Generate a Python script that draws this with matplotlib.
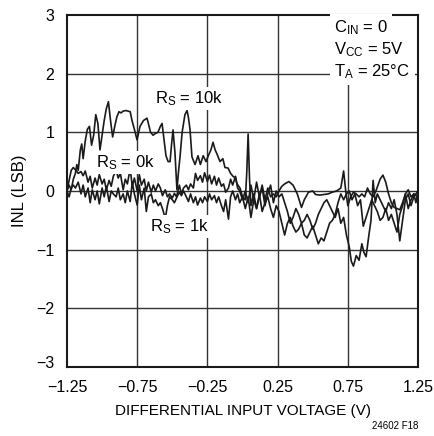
import matplotlib
matplotlib.use("Agg")
import matplotlib.pyplot as plt
from matplotlib import font_manager
from matplotlib.transforms import ScaledTranslation

# INL vs differential input voltage, three source resistances

# R_S = 10k trace
V_10K = [-1.25, -1.235, -1.22, -1.205, -1.19, -1.18, -1.17, -1.155, -1.145, -1.135,
         -1.12, -1.105, -1.09, -1.075, -1.06, -1.045, -1.03, -1.015, -1.0, -0.985,
         -0.97, -0.955, -0.94, -0.925, -0.91, -0.895, -0.88, -0.865, -0.85, -0.83,
         -0.80, -0.787, -0.77, -0.751, -0.73, -0.705, -0.68, -0.665, -0.655, -0.637,
         -0.62, -0.602, -0.585, -0.573, -0.56, -0.545, -0.53, -0.516, -0.505, -0.495,
         -0.481, -0.467, -0.455, -0.445, -0.43, -0.41, -0.395, -0.385, -0.374, -0.36,
         -0.338, -0.317, -0.30, -0.28, -0.26, -0.24, -0.225, -0.21, -0.195, -0.18,
         -0.16, -0.14, -0.125, -0.103, -0.085, -0.068, -0.05, -0.039, -0.018,
         0.0, 0.02, 0.03, 0.04, 0.05, 0.06, 0.08, 0.10, 0.12, 0.14, 0.16, 0.18, 0.20,
         0.22, 0.24, 0.26, 0.28, 0.30, 0.32, 0.34, 0.36, 0.38, 0.40, 0.42, 0.44, 0.46,
         0.48, 0.50, 0.52, 0.54, 0.56, 0.58, 0.60, 0.62, 0.64, 0.66, 0.68, 0.70, 0.72,
         0.74, 0.76, 0.775, 0.79, 0.81, 0.83, 0.85, 0.865, 0.88, 0.90, 0.915, 0.93,
         0.945, 0.96, 0.98, 1.0, 1.02, 1.04, 1.06, 1.08, 1.10, 1.12, 1.14, 1.16, 1.18,
         1.20, 1.22, 1.25]
INL_10K = [0.0, 0.10, 0.02, 0.20, 0.30, 0.45, 0.35, 0.70, 0.80, 0.55,
           0.85, 1.05, 1.10, 0.78, 0.95, 1.30, 1.15, 0.70, 0.95, 1.20,
           1.40, 1.52, 1.20, 0.92, 1.10, 1.26, 1.35, 1.33, 1.36, 1.37,
           1.35, 1.20, 1.05, 0.87, 1.10, 1.20, 1.24, 1.10, 1.00, 0.95,
           0.98, 1.00, 1.10, 1.15, 0.90, 0.60, 0.50, 0.50, 0.80, 1.04,
           0.65, 0.02, 0.35, 0.58, 1.00, 1.30, 1.37, 1.25, 1.05, 0.58,
           0.45, 0.60, 0.45, 0.60, 0.50, 0.62, 0.70, 0.83, 0.70, 0.62,
           0.50, 0.55, 0.40, 0.39, 0.30, 0.25, 0.22, 0.12, 0.05,
           -0.10, -0.15, 0.30, 0.97, 0.20, -0.25, -0.05, -0.30, -0.10, 0.05, -0.25, -0.05, 0.10,
           -0.20, 0.0, -0.10, -0.05, -0.20, -0.35, -0.55, -0.45, -0.30, -0.40, -0.55, -0.50, -0.40,
           -0.50, -0.65, -0.55, -0.40, -0.30, -0.20, -0.15, -0.25, -0.35, -0.45, -0.30, -0.55, -0.45,
           -0.75, -0.95, -1.20, -1.28, -1.10, -1.18, -0.90, -1.05, -1.12, -0.75, -0.50, 0.18,
           -0.20, -0.05, -0.15, -0.25, -0.35, -0.20, -0.30, -0.15, -0.40, -0.85, -0.50, -0.15, -0.05,
           -0.25, -0.10, 0.0]

# R_S = 0k trace
V_0K = [-1.25, -1.235, -1.22, -1.205, -1.19, -1.17, -1.15, -1.135, -1.12, -1.10,
        -1.085, -1.07, -1.05, -1.035, -1.02, -1.0, -0.985, -0.97, -0.95, -0.935,
        -0.92, -0.90, -0.885, -0.87, -0.85, -0.835, -0.82, -0.80, -0.785, -0.77,
        -0.75, -0.735, -0.72, -0.70, -0.685, -0.67, -0.65, -0.635, -0.62, -0.60,
        -0.585, -0.57, -0.55, -0.535, -0.52, -0.50, -0.485, -0.47, -0.45, -0.435,
        -0.42, -0.40, -0.385, -0.37, -0.35, -0.335, -0.32, -0.30, -0.285, -0.27,
        -0.25, -0.235, -0.22, -0.20, -0.185, -0.17, -0.15, -0.135, -0.12, -0.10,
        -0.085, -0.07, -0.05, -0.035, -0.02,
        0.0, 0.02, 0.04, 0.06, 0.08, 0.10, 0.12, 0.14, 0.16, 0.18, 0.20, 0.22, 0.24,
        0.26, 0.28, 0.30, 0.33, 0.36, 0.39, 0.42, 0.44, 0.47, 0.50, 0.52, 0.55, 0.58,
        0.61, 0.64, 0.67, 0.70, 0.72, 0.735, 0.75, 0.77, 0.79, 0.81, 0.83, 0.85, 0.87,
        0.89, 0.91, 0.93, 0.95, 0.98, 1.0, 1.02, 1.04, 1.06, 1.08, 1.10, 1.12, 1.14,
        1.16, 1.18, 1.20, 1.22, 1.235, 1.25]
INL_0K = [0.0, 0.18, 0.35, 0.40, 0.36, 0.30, 0.33, 0.26, 0.34, 0.15,
          0.25, 0.05, 0.22, 0.10, 0.28, 0.12, 0.20, 0.02, 0.18, 0.08,
          0.25, 0.35, 0.22, 0.30, 0.02, 0.20, 0.12, 0.38, 0.08, 0.22,
          0.0, 0.28, 0.10, 0.20, 0.0, 0.15, -0.02, 0.10, 0.0, 0.12,
          0.05, -0.08, 0.02, -0.10, -0.05, -0.12, -0.04, -0.10, 0.10, -0.05,
          0.05, 0.10, 0.02, 0.12, 0.05, 0.30, 0.18, 0.26, 0.15, 0.31,
          0.16, 0.27, 0.12, 0.25, 0.10, 0.22, 0.08, 0.12, -0.02, 0.05,
          0.20, 0.10, 0.25, 0.05, 0.0,
          -0.15, 0.0, -0.20, 0.10, -0.15, 0.15, -0.10, 0.10, -0.15, 0.05, -0.10, -0.05, -0.10,
          0.0, 0.08, 0.12, 0.16, 0.10, -0.05, -0.28, -0.15, -0.02, 0.0, -0.06, -0.07, -0.06,
          -0.05, -0.02, 0.0, 0.05, 0.34, 0.0, -0.25, -0.10, -0.02, -0.05, -0.10, -0.05, -0.10,
          0.05, -0.05, -0.10, 0.0, 0.20, 0.27, 0.15, -0.05, -0.20, -0.28, -0.30, -0.32, -0.20,
          -0.05, 0.02, -0.10, -0.05, -0.20, 0.0]

# R_S = 1k trace
V_1K = [-1.25, -1.235, -1.22, -1.205, -1.19, -1.17, -1.15, -1.135, -1.12, -1.10,
        -1.085, -1.07, -1.05, -1.035, -1.02, -1.0, -0.985, -0.97, -0.95, -0.935,
        -0.92, -0.90, -0.885, -0.87, -0.85, -0.835, -0.82, -0.80, -0.785, -0.77,
        -0.75, -0.735, -0.72, -0.70, -0.685, -0.67, -0.65, -0.635, -0.62, -0.60,
        -0.585, -0.57, -0.55, -0.535, -0.52, -0.50, -0.485, -0.47, -0.45, -0.435,
        -0.42, -0.40, -0.385, -0.37, -0.35, -0.335, -0.32, -0.30, -0.285, -0.27,
        -0.25, -0.235, -0.22, -0.20, -0.185, -0.17, -0.15, -0.135, -0.12, -0.10,
        -0.085, -0.07, -0.05, -0.035, -0.02,
        0.0, 0.02, 0.04, 0.06, 0.08, 0.10, 0.12, 0.14, 0.16, 0.18, 0.20, 0.22, 0.24,
        0.26, 0.28, 0.30, 0.32, 0.34, 0.36, 0.38, 0.40, 0.42, 0.44, 0.46, 0.48, 0.50,
        0.52, 0.54, 0.56, 0.58, 0.60, 0.62, 0.64, 0.66, 0.68, 0.70, 0.72, 0.74, 0.76,
        0.78, 0.80, 0.82, 0.84, 0.86, 0.88, 0.90, 0.92, 0.94, 0.96, 0.98, 1.0, 1.02,
        1.04, 1.06, 1.08, 1.10, 1.12, 1.14, 1.16, 1.18, 1.20, 1.22, 1.25]
INL_1K = [0.0, -0.10, 0.05, 0.10, 0.05, 0.15, -0.05, 0.10, -0.10, 0.05,
          -0.20, 0.02, -0.15, 0.0, -0.22, 0.05, -0.10, 0.08, -0.18, 0.0,
          -0.05, -0.10, 0.05, -0.15, -0.05, -0.20, 0.0, -0.18, 0.15, -0.05,
          -0.24, 0.10, -0.15, 0.05, -0.35, -0.10, -0.05, -0.20, -0.15, -0.25,
          -0.20, -0.30, -0.47, -0.25, -0.10, -0.15, -0.20, -0.12, -0.02, -0.08,
          0.0, -0.10, -0.18, -0.05, -0.20, -0.10, -0.24, -0.12, -0.20, -0.10,
          -0.18, -0.05, -0.15, -0.08, -0.20, -0.10, -0.25, -0.35, -0.15, -0.48,
          -0.10, 0.0, -0.15, -0.05, -0.20,
          -0.10, -0.30, -0.10, -0.45, -0.15, -0.30, -0.05, -0.35, -0.20, -0.10, -0.30, -0.45, -0.25,
          -0.35, -0.55, -0.75, -0.55, -0.45, -0.60, -0.70, -0.65, -0.55, -0.75, -0.80, -0.70, -0.60,
          -0.75, -0.90, -0.80, -0.85, -0.70, -0.55, -0.50, -0.40, -0.20, -0.05, -0.15, -0.05, 0.0,
          -0.15, -0.05, -0.25, -0.15, -0.60, -0.45, -0.30, -0.15, -0.25, -0.35, -0.50, -0.45, -0.30,
          -0.50, -0.40, -0.55, -0.70, -0.40, -0.25, -0.05, -0.30, -0.15, -0.05, -0.10]

X_TICKS = [-1.25, -0.75, -0.25, 0.25, 0.75, 1.25]
X_LABELS = ["\u22121.25", "\u22120.75", "\u22120.25", "0.25", "0.75", "1.25"]
Y_TICKS = [-3, -2, -1, 0, 1, 2, 3]
Y_LABELS = ["\u22123", "\u22122", "\u22121", "0", "1", "2", "3"]
COND_LINES = ["C$_{IN}$ = 0", "V$_{CC}$ = 5V", "T$_A$ = 25\u00b0C"]

# narrow sans if available
names = {f.name for f in font_manager.fontManager.ttflist}
FONT = "Liberation Sans Narrow" if "Liberation Sans Narrow" in names else "Liberation Sans"
plt.rcParams["font.family"] = [FONT, "DejaVu Sans"]
plt.rcParams["mathtext.fontset"] = "custom"
plt.rcParams["mathtext.rm"] = FONT
plt.rcParams["mathtext.it"] = FONT
plt.rcParams["mathtext.default"] = "regular"

fig = plt.figure(figsize=(4.35, 4.36), dpi=100)
ax = fig.add_axes([0.154, 0.158, 0.807, 0.808])

for v in [-0.75, -0.25, 0.25, 0.75]:
    ax.axvline(v, color="0.2", lw=1.0, zorder=1)
for y in [-2, -1, 0, 1, 2]:
    ax.axhline(y, color="0.2", lw=1.0, zorder=1)

for vv, yy in [(V_10K, INL_10K), (V_0K, INL_0K), (V_1K, INL_1K)]:
    ax.plot(vv, yy, color="#1a1a1a", lw=1.2, zorder=2)

ax.set_xlim(-1.25, 1.25)
ax.set_ylim(-3, 3)
ax.set_xticks(X_TICKS)
ax.set_xticklabels(X_LABELS)
ax.set_yticks(Y_TICKS)
ax.set_yticklabels(Y_LABELS)
ax.tick_params(length=0, labelsize=11.5)
ax.tick_params(axis="x", pad=9)
ax.tick_params(axis="y", pad=9)
# lift the bottom y label a little, off the x labels
lab = ax.get_yticklabels()[0]
lab.set_transform(lab.get_transform() + ScaledTranslation(0, 4 / 72, fig.dpi_scale_trans))
for s in ax.spines.values():
    s.set_linewidth(1.5)
    s.set_color("#1a1a1a")

ax.set_xlabel("DIFFERENTIAL INPUT VOLTAGE (V)", fontsize=11, labelpad=7)
ax.set_ylabel("INL (LSB)", fontsize=12, labelpad=7)

box = dict(facecolor="white", edgecolor="none", pad=1.5)
ax.text(-0.62, 1.58, "R$_S$ = 10k", fontsize=12, va="center", ha="left", bbox=box, zorder=3)
ax.text(-1.04, 0.49, "R$_S$ = 0k", fontsize=12, va="center", ha="left", bbox=box, zorder=3)
ax.text(-0.66, -0.6, "R$_S$ = 1k", fontsize=12, va="center", ha="left", bbox=box, zorder=3)

cbox = dict(facecolor="white", edgecolor="none", pad=3)
for i, line in enumerate(COND_LINES):
    ax.text(0.655, 2.78 - i * 0.375, line, fontsize=12, va="center", ha="left",
            bbox=cbox, zorder=3)

fig.text(0.961, 0.022, "24602 F18", fontsize=7, ha="right", va="center")

fig.savefig("out.png", dpi=100)
